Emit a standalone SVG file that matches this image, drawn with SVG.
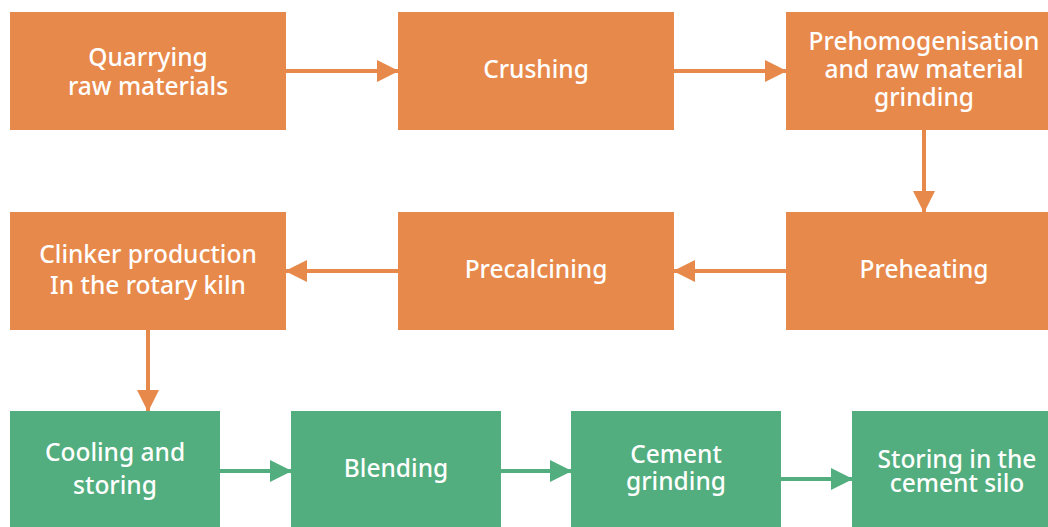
<svg xmlns="http://www.w3.org/2000/svg" width="1048" height="527" viewBox="0 0 1048 527">
<defs>
<style>
.o{fill:#E8894C}
.g{fill:#52AE7E}
.t{font-family:"Noto Sans","Open Sans",sans-serif;font-size:24.5px;font-weight:500;fill:#fff;text-anchor:middle}
.lo{stroke:#E8894C;stroke-width:4;fill:none}
.lg{stroke:#52AE7E;stroke-width:4;fill:none}
</style>
<marker id="ao" markerUnits="userSpaceOnUse" markerWidth="22" markerHeight="22" refX="21" refY="11" orient="auto" viewBox="0 0 22 22"><path d="M0,0L22,11L0,22Z" fill="#E8894C"/></marker>
<marker id="ag" markerUnits="userSpaceOnUse" markerWidth="22" markerHeight="22" refX="21" refY="11" orient="auto" viewBox="0 0 22 22"><path d="M0,0L22,11L0,22Z" fill="#52AE7E"/></marker>
</defs>
<rect width="1048" height="527" fill="#fff"/>
<g id="connectors">
<line class="lo" x1="286" y1="71" x2="398" y2="71" marker-end="url(#ao)"/>
<line class="lo" x1="674" y1="71" x2="786" y2="71" marker-end="url(#ao)"/>
<line class="lo" x1="924" y1="130" x2="924" y2="212" marker-end="url(#ao)"/>
<line class="lo" x1="786" y1="271" x2="674" y2="271" marker-end="url(#ao)"/>
<line class="lo" x1="398" y1="271" x2="286" y2="271" marker-end="url(#ao)"/>
<line class="lo" x1="148" y1="330" x2="148" y2="411" marker-end="url(#ao)"/>
<line class="lg" x1="220" y1="471" x2="291" y2="471" marker-end="url(#ag)"/>
<line class="lg" x1="501" y1="471" x2="571" y2="471" marker-end="url(#ag)"/>
<line class="lg" x1="781" y1="479" x2="852" y2="479" marker-end="url(#ag)"/>
</g>
<g id="n1"><rect class="o" x="10" y="12" width="276" height="118"/><text class="t" x="148" y="66">Quarrying</text><text class="t" x="148" y="95">raw materials</text></g>
<g id="n2"><rect class="o" x="398" y="12" width="276" height="118"/><text class="t" x="536" y="78">Crushing</text></g>
<g id="n3"><rect class="o" x="786" y="12" width="276" height="118"/><text class="t" x="924" y="50">Prehomogenisation</text><text class="t" x="924" y="78">and raw material</text><text class="t" x="924" y="106">grinding</text></g>
<g id="n4"><rect class="o" x="786" y="212" width="276" height="118"/><text class="t" x="924" y="278">Preheating</text></g>
<g id="n5"><rect class="o" x="398" y="212" width="276" height="118"/><text class="t" x="536" y="278">Precalcining</text></g>
<g id="n6"><rect class="o" x="10" y="212" width="276" height="118"/><text class="t" x="148" y="263">Clinker production</text><text class="t" x="148" y="294">In the rotary kiln</text></g>
<g id="n7"><rect class="g" x="10" y="411" width="210" height="118"/><text class="t" x="115" y="461">Cooling and</text><text class="t" x="115" y="494">storing</text></g>
<g id="n8"><rect class="g" x="291" y="411" width="210" height="118"/><text class="t" x="396" y="477">Blending</text></g>
<g id="n9"><rect class="g" x="571" y="411" width="210" height="118"/><text class="t" x="676" y="463">Cement</text><text class="t" x="676" y="490">grinding</text></g>
<g id="n10"><rect class="g" x="852" y="411" width="210" height="118"/><text class="t" x="957" y="468">Storing in the</text><text class="t" x="957" y="492">cement silo</text></g>
</svg>
